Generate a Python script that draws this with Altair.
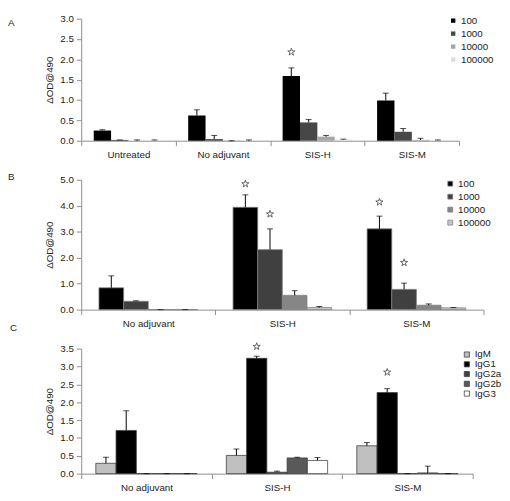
import altair as alt
import pandas as pd

FONT = "Liberation Sans"
STAR = ("M0,-1L0.2234,-0.3074L0.9511,-0.309L0.3614,0.1174L0.5878,0.809L0,0.38"
        "L-0.5878,0.809L-0.3614,0.1174L-0.9511,-0.309L-0.2234,-0.3074Z")

# ---------------- Panel A ----------------
a_groups = ["Untreated", "No adjuvant", "SIS-H", "SIS-M"]
a_series = ["100", "1000", "10000", "100000"]
a_values = [
    [0.25, 0.02, 0.00, 0.01],
    [0.62, 0.04, -0.01, 0.00],
    [1.59, 0.45, 0.10, 0.03],
    [0.99, 0.22, 0.02, 0.01],
]
a_errors = [
    [0.27, 0.02, 0.02, 0.02],
    [0.76, 0.13, 0.00, 0.02],
    [1.79, 0.52, 0.13, 0.04],
    [1.17, 0.30, 0.06, 0.02],
]
a_colors = ["#000000", "#474747", "#a6a6a6", "#dedede"]
a_stars = [("SIS-H", "100", 2.18)]

# ---------------- Panel B ----------------
b_groups = ["No adjuvant", "SIS-H", "SIS-M"]
b_series = ["100", "1000", "10000", "100000"]
b_values = [
    [0.84, 0.32, 0.00, 0.00],
    [3.94, 2.31, 0.55, 0.08],
    [3.11, 0.78, 0.17, 0.07],
]
b_errors = [
    [1.30, 0.34, 0.00, 0.00],
    [4.42, 3.11, 0.73, 0.12],
    [3.60, 1.02, 0.22, 0.08],
]
b_colors = ["#000000", "#404040", "#868686", "#c8c8c8"]
b_stars = [("SIS-H", "100", 4.84), ("SIS-H", "1000", 3.68),
           ("SIS-M", "100", 4.14), ("SIS-M", "1000", 1.81)]

# ---------------- Panel C ----------------
c_groups = ["No adjuvant", "SIS-H", "SIS-M"]
c_series = ["IgM", "IgG1", "IgG2a", "IgG2b", "IgG3"]
c_values = [
    [0.29, 1.21, 0.00, 0.00, 0.00],
    [0.51, 3.23, 0.04, 0.44, 0.37],
    [0.78, 2.27, 0.00, 0.02, 0.00],
]
c_errors = [
    [0.46, 1.76, 0.00, 0.00, 0.00],
    [0.69, 3.29, 0.07, 0.46, 0.45],
    [0.87, 2.38, 0.00, 0.21, 0.00],
]
c_colors = ["#c0c0c0", "#000000", "#404040", "#595959", "#ffffff"]
c_stars = [("SIS-H", "IgG1", 3.56), ("SIS-M", "IgG1", 2.84)]


def make_panel(groups, series, values, errors, colors, stars, width, height,
               ymax, ystep, letter, letter_x, letter_y, leg_x, leg_y,
               leg_row, sym_size, stroke, stroke_w):
    star_map = {(g, s): y for g, s, y in stars}
    rows = []
    for gi, g in enumerate(groups):
        for si, s in enumerate(series):
            rows.append({"group": g, "series": s,
                         "value": values[gi][si], "err": errors[gi][si],
                         "sy": star_map.get((g, s), -1.0),
                         "has_star": 1 if (g, s) in star_map else 0})
    df = pd.DataFrame(rows)

    x_scale = alt.Scale(type="band", paddingInner=0, paddingOuter=0)
    xo_scale = alt.Scale(type="band", paddingInner=0, paddingOuter=0.72)
    x_enc = alt.X("group:N", sort=groups, scale=x_scale,
                  axis=alt.Axis(title=None, tickBand="extent", labelAngle=0,
                                tickSize=5, labelPadding=4,
                                domainColor="#8c8c8c", tickColor="#8c8c8c",
                                labelFontSize=10, labelColor="#222222",
                                labelFont=FONT))
    xo_enc = alt.XOffset("series:N", sort=series, scale=xo_scale)
    ticks = [round(i * ystep, 2) for i in range(int(round(ymax / ystep)) + 1)]
    y_scale = alt.Scale(domain=[0, ymax], nice=False)
    y_axis = alt.Axis(title="ΔOD@490", values=ticks, format=".1f",
                      labelOverlap=False, labelFlush=False,
                      tickSize=5, labelPadding=3, titlePadding=5,
                      domainColor="#8c8c8c", tickColor="#8c8c8c",
                      labelFontSize=10, labelColor="#222222",
                      labelFont=FONT, titleFont=FONT,
                      titleFontSize=10, titleFontWeight="normal",
                      titleColor="#222222", grid=False)

    base = alt.Chart(df).encode(x=x_enc, xOffset=xo_enc)

    bar_kwargs = {}
    if stroke:
        bar_kwargs = {"stroke": stroke, "strokeWidth": stroke_w}
    bars = base.mark_bar(**bar_kwargs).encode(
        y=alt.Y("value:Q", scale=y_scale, axis=y_axis),
        color=alt.Color("series:N", sort=series,
                        scale=alt.Scale(domain=series, range=colors),
                        legend=alt.Legend(title=None, orient="none",
                                          legendX=leg_x, legendY=leg_y,
                                          symbolType="square",
                                          symbolSize=sym_size,
                                          symbolStrokeColor=stroke if stroke else "transparent",
                                          symbolStrokeWidth=stroke_w if stroke else 0,
                                          labelFontSize=10, labelFont=FONT,
                                          labelColor="#222222",
                                          labelOffset=3, rowPadding=leg_row,
                                          padding=0)),
    )
    err = base.mark_rule(color="#000000", strokeWidth=1).encode(
        y=alt.Y("value:Q", scale=y_scale, axis=y_axis), y2="err:Q")
    cap = base.mark_tick(color="#000000", size=6,
                         orient="horizontal").encode(
        y=alt.Y("err:Q", scale=y_scale, axis=y_axis))
    star = base.transform_filter("datum.has_star == 1").mark_point(
        shape=STAR, size=60, filled=False, stroke="#555555",
        strokeWidth=0.9, opacity=1).encode(
        y=alt.Y("sy:Q", scale=y_scale, axis=y_axis))
    lab = alt.Chart(pd.DataFrame({"t": [letter]})).mark_text(
        align="left", baseline="middle", fontSize=10, font=FONT,
        color="#222222").encode(
        x=alt.value(letter_x), y=alt.value(letter_y), text="t:N")

    return alt.layer(bars, err, cap, star, lab).properties(
        width=width, height=height)


pa = make_panel(a_groups, a_series, a_values, a_errors, a_colors, a_stars,
                387, 125, 3.0, 0.5, "A", -75, 4, 376, -3, 3.3, 20, None, 0)
pb = make_panel(b_groups, b_series, b_values, b_errors, b_colors, b_stars,
                412, 133, 5.0, 1.0, "B", -75, -3, 373, -1, 3.3, 25, "#808080", 0.8)
pc = make_panel(c_groups, c_series, c_values, c_errors, c_colors, c_stars,
                401, 128, 3.5, 0.5, "C", -73, -21, 390, 1, 0, 28, "#404040", 0.8)

chart = alt.vconcat(pa, pb, pc, spacing=40, bounds="flush").resolve_scale(
    color="independent", x="independent", y="independent",
    xOffset="independent"
).configure(
    padding=0, font=FONT
).configure_view(stroke=None)

chart.save("out.html", embed_options={"renderer": "svg", "actions": False})
